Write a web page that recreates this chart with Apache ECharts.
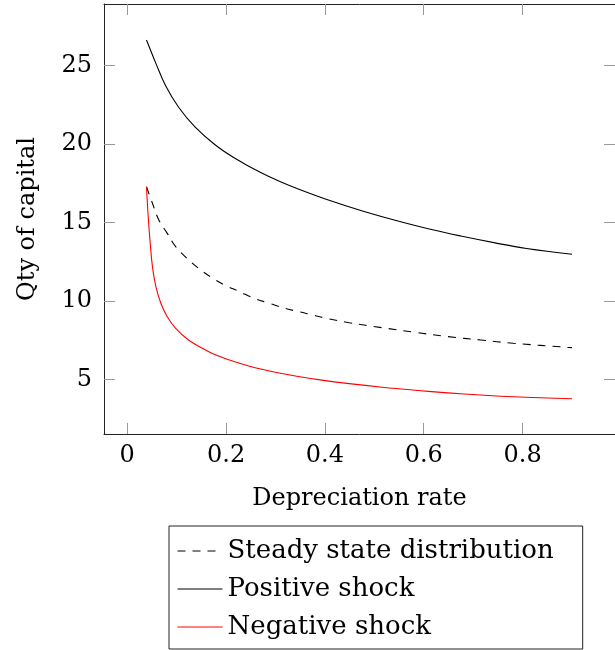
<!DOCTYPE html>
<html>
<head>
<meta charset="utf-8">
<script src="https://cdn.jsdelivr.net/npm/echarts@6/dist/echarts.min.js"></script>
<style>html,body{margin:0;padding:0;background:#fff}#c{width:615px;height:650px}</style>
</head>
<body>
<div id="c"></div>
<script>
var xTicks = [0, 0.2, 0.4, 0.6, 0.8];
var yTicks = [5, 10, 15, 20, 25];
var seriesNames = ['Steady state distribution', 'Positive shock', 'Negative shock'];

var steadyX = [0.039, 0.051, 0.064, 0.081, 0.098, 0.121, 0.144, 0.171, 0.197, 0.227, 0.257, 0.287, 0.317, 0.347, 0.376, 0.403, 0.449, 0.516, 0.582, 0.649, 0.715, 0.781, 0.891, 0.900];
var steadyY = [17.29, 16.24, 15.17, 14.32, 13.47, 12.73, 12.10, 11.50, 11.03, 10.61, 10.18, 9.87, 9.57, 9.33, 9.12, 8.91, 8.63, 8.31, 8.02, 7.74, 7.53, 7.32, 7.06, 7.04];

var positiveX = [0.039, 0.058, 0.078, 0.104, 0.137, 0.177, 0.217, 0.270, 0.310, 0.350, 0.410, 0.476, 0.542, 0.609, 0.675, 0.742, 0.808, 0.900];
var positiveY = [26.64, 25.15, 23.70, 22.35, 21.10, 19.98, 19.12, 18.19, 17.61, 17.10, 16.41, 15.74, 15.15, 14.61, 14.15, 13.73, 13.36, 12.99];

var negativeX = [0.039, 0.042, 0.046, 0.051, 0.058, 0.068, 0.081, 0.098, 0.124, 0.157, 0.177, 0.210, 0.244, 0.277, 0.310, 0.343, 0.390, 0.449, 0.516, 0.582, 0.649, 0.715, 0.781, 0.900];
var negativeY = [17.29, 15.60, 13.90, 12.20, 10.92, 9.87, 9.01, 8.27, 7.53, 6.92, 6.60, 6.22, 5.89, 5.63, 5.41, 5.22, 4.99, 4.75, 4.52, 4.33, 4.16, 4.02, 3.91, 3.79];

function pairs(xs, ys) { return xs.map(function (x, i) { return [x, ys[i]]; }); }

var FONT = 'DejaVu Serif';
var FS = 24;
var axisLine = { show: true, onZero: false, lineStyle: { color: '#222', width: 1 } };
var tickStyle = { show: true, inside: true, length: 11, lineStyle: { color: '#999', width: 1 } };

var chart = echarts.init(document.getElementById('c'), null, { renderer: 'canvas' });
chart.setOption({
  animation: false,
  backgroundColor: '#fff',
  grid: { left: 104, top: 4, right: -7, bottom: 216, containLabel: false },
  xAxis: [{
    type: 'value', min: -0.047, max: 0.987, position: 'bottom',
    axisLine: axisLine,
    axisTick: Object.assign({ customValues: xTicks }, tickStyle),
    axisLabel: { customValues: xTicks, fontFamily: FONT, fontSize: FS, color: '#000', margin: 10,
      formatter: function (v) { return String(v); } },
    splitLine: { show: false },
    name: 'Depreciation rate', nameLocation: 'middle', nameGap: 53,
    nameTextStyle: { fontFamily: FONT, fontSize: FS, color: '#000' }
  }, {
    type: 'value', min: -0.047, max: 0.987, position: 'top',
    axisLine: axisLine,
    axisTick: Object.assign({ customValues: xTicks }, tickStyle),
    axisLabel: { show: false },
    splitLine: { show: false }
  }],
  yAxis: [{
    type: 'value', min: 1.54, max: 28.93, position: 'left',
    axisLine: axisLine,
    axisTick: Object.assign({ customValues: yTicks }, tickStyle),
    axisLabel: { customValues: yTicks, fontFamily: FONT, fontSize: FS, color: '#000', margin: 12 },
    splitLine: { show: false },
    name: 'Qty of capital', nameLocation: 'middle', nameGap: 64, nameRotate: 90,
    nameTextStyle: { fontFamily: FONT, fontSize: FS, color: '#000' }
  }, {
    type: 'value', min: 1.54, max: 28.93, position: 'right',
    axisLine: axisLine,
    axisTick: Object.assign({ customValues: yTicks }, tickStyle),
    axisLabel: { show: false },
    splitLine: { show: false }
  }],
  legend: {
    orient: 'vertical', left: 169, top: 526,
    data: seriesNames,
    itemWidth: 45, itemHeight: 14, itemGap: 8,
    padding: [10, 29, 7, 8],
    borderColor: '#222', borderWidth: 1,
    itemStyle: { opacity: 0 },
    lineStyle: { width: 1 },
    textStyle: { fontFamily: FONT, fontSize: 26, color: '#000', lineHeight: 30 }
  },
  series: [{
    name: seriesNames[0], type: 'line', data: pairs(steadyX, steadyY),
    symbol: 'none', smooth: 0.4,
    itemStyle: { color: '#000' },
    lineStyle: { color: '#000', width: 1.1, type: [8, 7] }
  }, {
    name: seriesNames[1], type: 'line', data: pairs(positiveX, positiveY),
    symbol: 'none', smooth: 0.4,
    itemStyle: { color: '#000' },
    lineStyle: { color: '#000', width: 1.1 }
  }, {
    name: seriesNames[2], type: 'line', data: pairs(negativeX, negativeY),
    symbol: 'none', smooth: 0.4,
    itemStyle: { color: '#ff0000' },
    lineStyle: { color: '#ff0000', width: 1.1 }
  }]
});
</script>
</body>
</html>
